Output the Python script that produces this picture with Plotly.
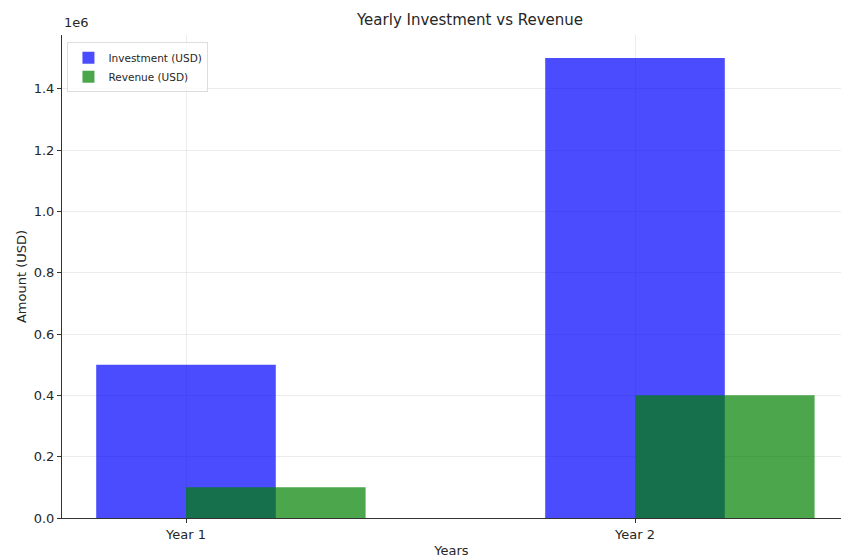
import numpy as np
import plotly.graph_objects as go

years = ["Year 1", "Year 2"]
investment = [500000, 1500000]
revenue = [100000, 400000]
y_ticks = [0, 200000, 400000, 600000, 800000, 1000000, 1200000, 1400000]
y_tick_labels = ["0.0", "0.2", "0.4", "0.6", "0.8", "1.0", "1.2", "1.4"]

bar_w = 0.4
idx = np.arange(len(years))

fig = go.Figure()
fig.add_trace(go.Bar(
    x=idx, y=investment, width=bar_w, name="Investment (USD)",
    marker=dict(color="blue", line=dict(width=0)), opacity=0.7,
))
fig.add_trace(go.Bar(
    x=idx + bar_w / 2, y=revenue, width=bar_w, name="Revenue (USD)",
    marker=dict(color="green", line=dict(width=0)), opacity=0.7,
))

font_family = "DejaVu Sans"
txt = "#262626"
x0 = -124 / 449

fig.update_layout(
    width=841, height=558,
    margin=dict(l=62, r=0, t=35, b=40),
    paper_bgcolor="white", plot_bgcolor="white",
    barmode="overlay",
    font=dict(family=font_family, color=txt, size=13),
    title=dict(text="Yearly Investment vs Revenue", x=(470 - 62) / 779, xref="paper",
               xanchor="center", y=1 - 20 / 558, yanchor="middle",
               font=dict(size=15, color=txt, family=font_family)),
    xaxis=dict(
        range=[x0, x0 + 779 / 449], tickvals=list(idx), ticktext=years,
        showgrid=True, gridcolor="rgba(200,200,200,0.35)", gridwidth=1,
        showline=True, linecolor="#333333", linewidth=1,
        ticks="outside", ticklen=4, tickcolor="#333333",
        tickfont=dict(size=13, color=txt), zeroline=False,
        title=dict(text="Years", font=dict(size=13, color=txt), standoff=8),
        layer="above traces",
    ),
    yaxis=dict(
        range=[0, 1575000], tickvals=y_ticks, ticktext=y_tick_labels,
        showgrid=True, gridcolor="rgba(200,200,200,0.35)", gridwidth=1,
        showline=True, linecolor="#333333", linewidth=1,
        ticks="outside", ticklen=4, tickcolor="#333333",
        tickfont=dict(size=13, color=txt), zeroline=False,
        title=dict(text="Amount (USD)", font=dict(size=13, color=txt), standoff=4),
        layer="above traces",
    ),
    legend=dict(
        x=0.007, y=0.985, xanchor="left", yanchor="top",
        bgcolor="rgba(255,255,255,0.8)", bordercolor="#dddddd", borderwidth=1,
        font=dict(size=10.5, color=txt, family=font_family),
        tracegroupgap=0, itemsizing="constant",
    ),
    showlegend=True,
)

fig.add_annotation(
    text="1e6", xref="paper", yref="paper", x=0, y=1 + 12 / 483,
    xanchor="left", yanchor="middle", showarrow=False,
    font=dict(size=13, color=txt, family=font_family),
)

fig.write_html("out.html")
